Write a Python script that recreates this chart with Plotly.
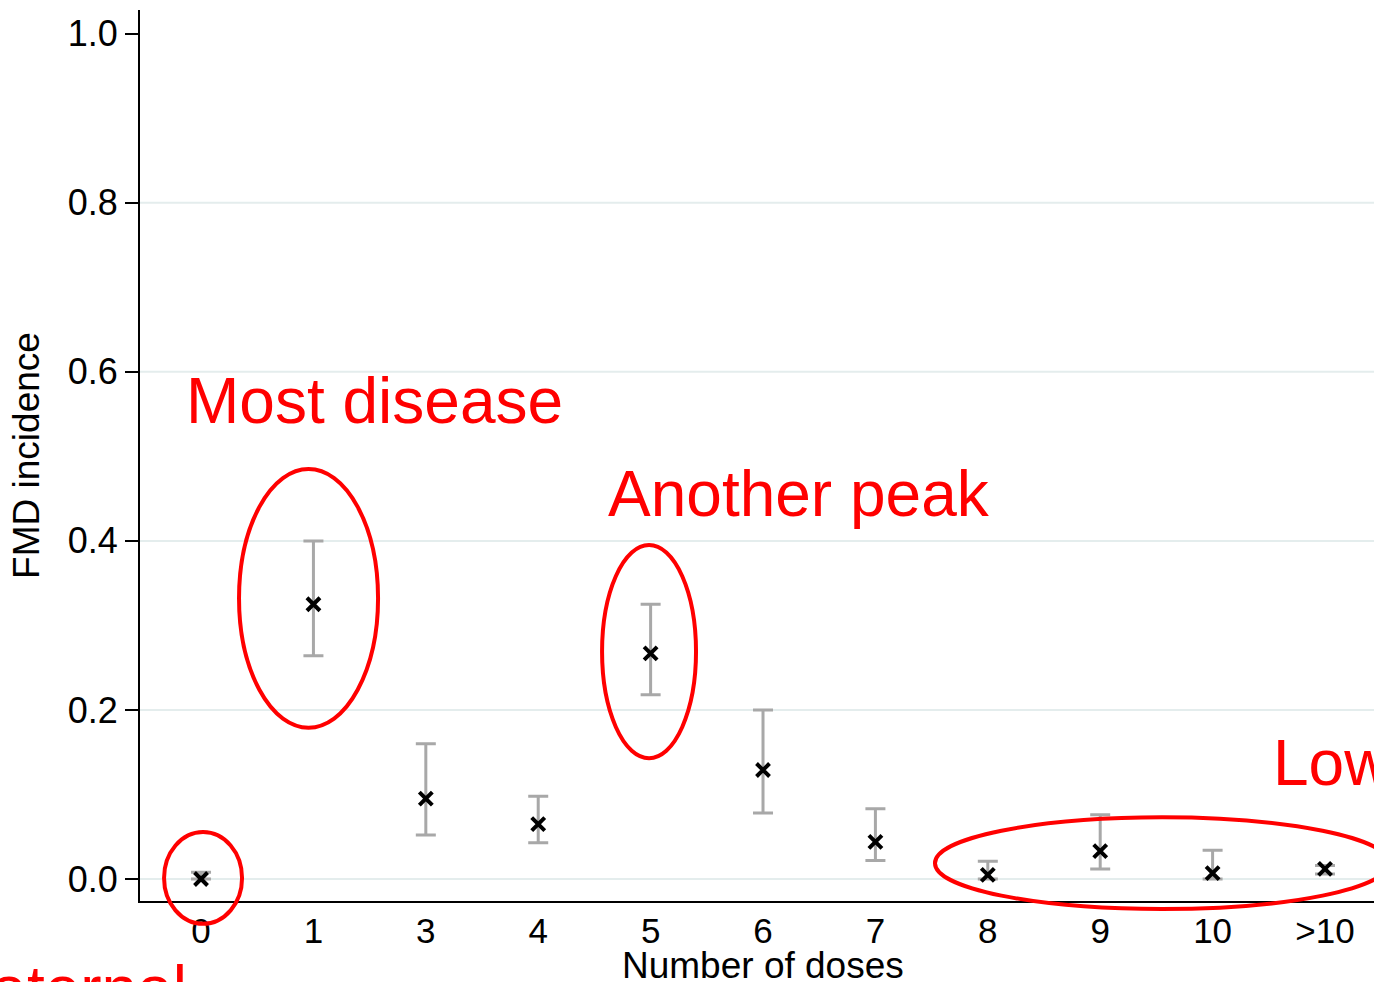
import plotly.graph_objects as go

doses = ["0", "1", "3", "4", "5", "6", "7", "8", "9", "10", ">10"]
incidence = [0.000, 0.325, 0.095, 0.065, 0.267, 0.129, 0.044, 0.005, 0.033, 0.007, 0.012]
ci_low = [0.000, 0.264, 0.052, 0.043, 0.218, 0.078, 0.022, 0.000, 0.012, 0.000, 0.006]
ci_high = [0.008, 0.400, 0.160, 0.098, 0.325, 0.200, 0.083, 0.021, 0.076, 0.034, 0.016]
y_ticks = [0.0, 0.2, 0.4, 0.6, 0.8, 1.0]
grid_vals = [0.0, 0.2, 0.4, 0.6, 0.8]

XR = [-0.543, 10.436]
YR = [-0.026, 1.028]

def px(v):
    return (v - XR[0]) / (XR[1] - XR[0])

def py(v):
    return (v - YR[0]) / (YR[1] - YR[0])

FONT = "Arial, Liberation Sans, sans-serif"
RED = "#ff0000"

fig = go.Figure()
fig.add_trace(go.Scatter(
    x=doses, y=incidence, mode="markers",
    marker=dict(symbol="x-thin", size=13, color="black",
                line=dict(color="black", width=4)),
    error_y=dict(type="data", symmetric=False,
                 array=[h - m for h, m in zip(ci_high, incidence)],
                 arrayminus=[m - l for m, l in zip(incidence, ci_low)],
                 color="#a8a8a8", thickness=3, width=10),
    showlegend=False, cliponaxis=False,
))

shapes = []
for g in grid_vals:
    shapes.append(dict(type="line", xref="paper", yref="y", x0=0, x1=1, y0=g, y1=g,
                       line=dict(color="#e4eded", width=2), layer="below"))

ellipses = [(-0.329, 0.365, -0.053, 0.0556),
            (0.338, 1.575, 0.179, 0.485),
            (3.568, 4.404, 0.143, 0.395),
            (6.53, 10.57, -0.0355, 0.073)]
for x0, x1, y0, y1 in ellipses:
    shapes.append(dict(type="circle", xref="paper", yref="paper",
                       x0=px(x0), x1=px(x1), y0=py(y0), y1=py(y1),
                       line=dict(color=RED, width=4)))

annots = [("Most disease", -0.152, 0.565),
          ("Another peak", 3.6, 0.455),
          ("Low", 9.52, 0.137),
          ("Maternal", -2.36, -0.13)]
annotations = []
for t, x, y in annots:
    annotations.append(dict(text=t, xref="paper", yref="paper", x=px(x), y=py(y),
                            xanchor="left", yanchor="middle", showarrow=False,
                            font=dict(family=FONT, size=64, color=RED)))

# x-axis title placed as a paper annotation
annotations.append(dict(text="Number of doses", xref="paper", yref="paper",
                        x=px(5.0), y=py(-0.102), xanchor="center", yanchor="middle",
                        showarrow=False, font=dict(family=FONT, size=37, color="black")))

fig.update_layout(
    width=1374, height=982,
    margin=dict(l=140, r=0, t=10, b=81),
    paper_bgcolor="white", plot_bgcolor="white",
    font=dict(family=FONT, color="black"),
    shapes=shapes, annotations=annotations,
    xaxis=dict(range=XR, type="category", categoryorder="array", categoryarray=doses,
               automargin=False,
               showgrid=False, zeroline=False, showline=True, linecolor="black", linewidth=2,
               ticks="", ticklen=0, tickfont=dict(size=35), ticklabelstandoff=-2),
    yaxis=dict(range=YR, tickvals=y_ticks, ticktext=[f"{v:.1f}" for v in y_ticks],
               automargin=False,
               showgrid=False, zeroline=False, showline=True, linecolor="black", linewidth=2,
               ticks="outside", ticklen=13, tickwidth=2, tickcolor="black",
               tickfont=dict(size=36), ticklabelstandoff=0,
               title=dict(text="FMD incidence", font=dict(size=37), standoff=17)),
)

fig.write_html("out.html")
